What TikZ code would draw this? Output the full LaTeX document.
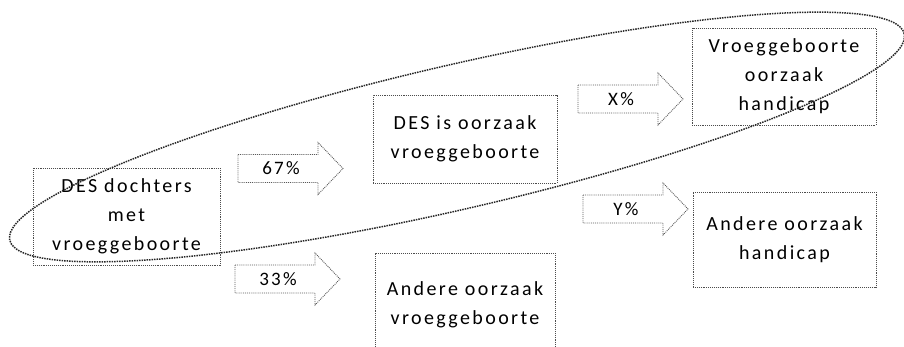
\documentclass[tikz,border=0pt]{standalone}
\usepackage{fontspec}
\setmainfont{Carlito}[LetterSpace=12]
\tikzset{
	vak/.style 2 args={draw=black!70,densely dotted,line width=0.9pt,align=center,inner sep=0pt,
		text=black,font=\fontsize{20}{29}\selectfont,minimum width=#1,minimum height=#2},
	pijl/.style={draw=black!65,densely dotted,line width=0.9pt},
	lus/.style={draw=black!85,densely dotted,line width=1.5pt}
}
\newcommand{\pijl}[4]{
	\draw[pijl] (#2,#3-14) -- (#2+80,#3-14) -- (#2+80,#3-26) -- (#2+105,#3) -- (#2+80,#3+26) -- (#2+80,#3+14) -- (#2,#3+14) -- cycle;
	\node [name=#1,text=black,font=\fontsize{19}{29}\selectfont] at (#2+43,#3) {#4};
}

\begin{document}
\begin{tikzpicture}[x=1pt,y=-1pt]
	\useasboundingbox (0,0) rectangle (904,347);

	\node [vak={187pt}{97pt}] (dochters) at (126.5,216.5) {DES dochters\\met\\vroeggeboorte};
	\node [vak={184pt}{88pt}] (desoorzaak) at (465,139) {DES is oorzaak\\vroeggeboorte};
	\node [vak={180pt}{104pt}] (andervroeg) at (465,305) {Andere oorzaak\\vroeggeboorte};
	\node [vak={184pt}{97pt}] (vroeghandicap) at (784,76.5) {Vroeggeboorte\\oorzaak\\handicap};
	\node [vak={183pt}{95pt}] (anderhandicap) at (784.5,239.5) {Andere oorzaak\\handicap};

	\pijl{p67}{238}{168.5}{67\%}
	\pijl{p33}{235}{279}{33\%}
	\pijl{px}{578}{99}{X\%}
	\pijl{py}{583}{209}{Y\%}

	% de lus rond de DES-keten
	\draw[lus,rotate around={13:(457,137)}] (457,137) ellipse [x radius=459pt,y radius=72pt];
\end{tikzpicture}
\end{document}
